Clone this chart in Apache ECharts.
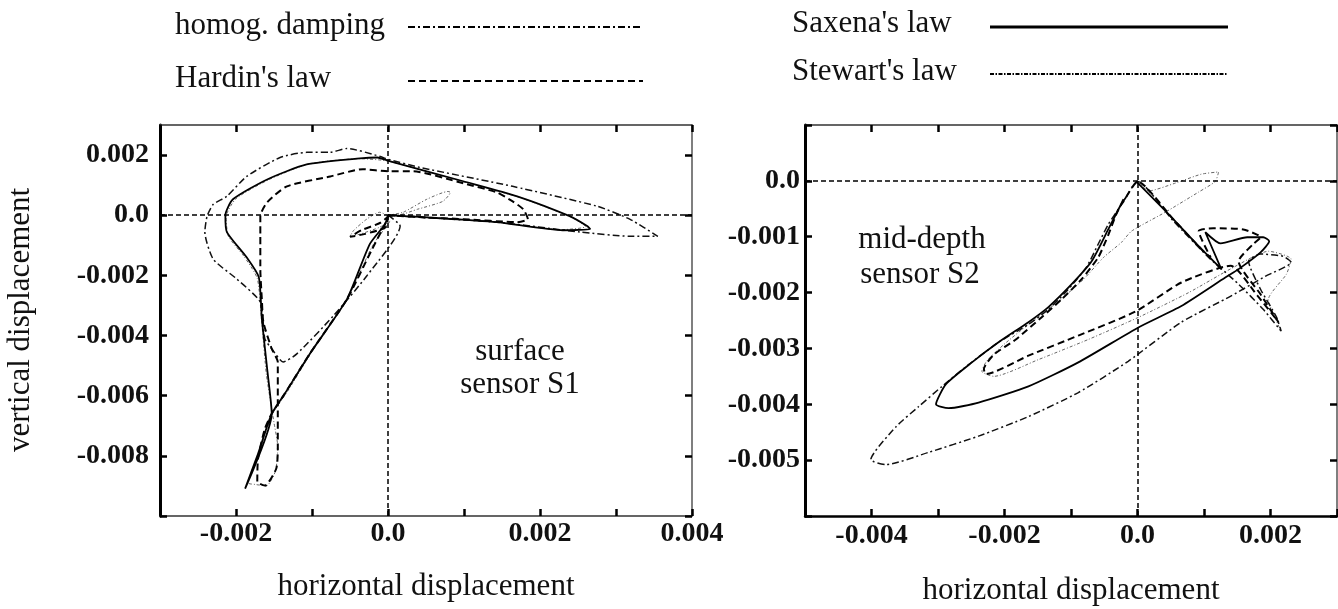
<!DOCTYPE html>
<html><head><meta charset="utf-8">
<script src="https://cdn.jsdelivr.net/npm/echarts/dist/echarts.min.js"></script>
<style>html,body{margin:0;padding:0;background:#fff}#c{width:1338px;height:609px}</style>
</head><body><div id="c"></div>
<script>
// ---------- tick values / labels ----------
const s1XTicks = [-3e-3,-2e-3,-1e-3,0,1e-3,2e-3,3e-3,4e-3];
const s1XLabels = [-2e-3,0,2e-3,4e-3];
const s1YTicks = [-10e-3,-8e-3,-6e-3,-4e-3,-2e-3,0,2e-3];
const s1YLabels = [-8e-3,-6e-3,-4e-3,-2e-3,0,2e-3];
const s2XTicks = [-5e-3,-4e-3,-3e-3,-2e-3,-1e-3,0,1e-3,2e-3,3e-3];
const s2XLabels = [-4e-3,-2e-3,0,2e-3];
const s2YTicks = [-6e-3,-5e-3,-4e-3,-3e-3,-2e-3,-1e-3,0,1e-3];
const s2YLabels = [-5e-3,-4e-3,-3e-3,-2e-3,-1e-3,0];

// ---------- surface sensor S1 ----------
const s1Homog = [[0,0],[0.16e-3,-0.36e-3],[-0.28e-3,-2.02e-3],[-0.72e-3,-3.35e-3],[-1.20e-3,-4.61e-3],[-1.38e-3,-4.88e-3],[-1.53e-3,-4.44e-3],[-1.62e-3,-4.11e-3],[-1.68e-3,-2.89e-3],[-1.99e-3,-2.12e-3],[-2.30e-3,-1.46e-3],[-2.41e-3,-0.56e-3],[-2.38e-3,-0.03e-3],[-2.30e-3,0.36e-3],[-2.12e-3,0.63e-3],[-1.86e-3,1.29e-3],[-1.42e-3,1.92e-3],[-1.07e-3,2.09e-3],[-0.76e-3,2.09e-3],[-0.54e-3,2.22e-3],[-0.11e-3,1.96e-3],[0,1.86e-3],[0.42e-3,1.59e-3],[1.64e-3,0.96e-3],[2.75e-3,0.30e-3],[3.18e-3,-0.13e-3],[3.55e-3,-0.70e-3],[3.18e-3,-0.70e-3],[2.53e-3,-0.56e-3],[1.43e-3,-0.23e-3],[0.42e-3,-0.07e-3],[0,0]];
const s1Hardin = [[0,0],[-0.03e-3,-0.40e-3],[-0.30e-3,-0.62e-3],[-0.50e-3,-0.72e-3],[-0.35e-3,-0.50e-3],[-0.10e-3,-0.25e-3],[0,-0.05e-3],[-0.04e-3,-0.30e-3],[-0.21e-3,-1.13e-3],[-0.54e-3,-2.79e-3],[-1.03e-3,-4.61e-3],[-1.36e-3,-5.94e-3],[-1.53e-3,-6.60e-3],[-1.62e-3,-7.10e-3],[-1.71e-3,-8.09e-3],[-1.72e-3,-8.86e-3],[-1.62e-3,-8.99e-3],[-1.47e-3,-8.42e-3],[-1.45e-3,-7.76e-3],[-1.45e-3,-6.10e-3],[-1.45e-3,-4.88e-3],[-1.53e-3,-4.44e-3],[-1.64e-3,-3.55e-3],[-1.66e-3,-2.79e-3],[-1.68e-3,-1.79e-3],[-1.68e-3,-0.70e-3],[-1.68e-3,-0.03e-3],[-1.59e-3,0.43e-3],[-1.33e-3,0.96e-3],[-0.76e-3,1.29e-3],[-0.33e-3,1.53e-3],[0,1.46e-3],[0.33e-3,1.46e-3],[0.99e-3,1.06e-3],[1.43e-3,0.76e-3],[1.64e-3,0.46e-3],[1.78e-3,0.20e-3],[1.84e-3,-0.13e-3],[1.70e-3,-0.23e-3],[0.99e-3,-0.13e-3],[0.46e-3,-0.07e-3],[0,0]];
const s1Saxena = [[0,0],[-0.04e-3,-0.30e-3],[-0.24e-3,-0.96e-3],[-0.54e-3,-2.79e-3],[-1.03e-3,-4.61e-3],[-1.36e-3,-5.94e-3],[-1.53e-3,-6.60e-3],[-1.71e-3,-7.93e-3],[-1.88e-3,-9.09e-3],[-1.53e-3,-6.60e-3],[-1.59e-3,-5.11e-3],[-1.66e-3,-3.45e-3],[-1.70e-3,-2.06e-3],[-1.86e-3,-1.40e-3],[-2.12e-3,-0.56e-3],[-2.14e-3,0],[-2.04e-3,0.53e-3],[-1.59e-3,1.19e-3],[-1.07e-3,1.69e-3],[-0.37e-3,1.89e-3],[-0.14e-3,1.92e-3],[0.03e-3,1.79e-3],[0.99e-3,1.13e-3],[1.70e-3,0.63e-3],[2.39e-3,-0.03e-3],[2.62e-3,-0.36e-3],[2.66e-3,-0.46e-3],[2.30e-3,-0.50e-3],[1.43e-3,-0.23e-3],[0.51e-3,-0.07e-3],[0.20e-3,-0.03e-3],[0,0]];
const s1Stewart = [[0,0],[0.20e-3,0.10e-3],[0.51e-3,0.53e-3],[0.79e-3,0.79e-3],[0.82e-3,0.76e-3],[0.72e-3,0.46e-3],[0.39e-3,0.20e-3],[0.12e-3,0],[0,0],[-0.11e-3,0.10e-3],[-0.28e-3,-0.13e-3],[-0.45e-3,-0.50e-3],[-0.50e-3,-0.70e-3],[-0.37e-3,-0.63e-3],[-0.11e-3,-0.40e-3],[0.03e-3,-0.20e-3],[-0.20e-3,-1.00e-3],[-0.52e-3,-2.70e-3],[-0.98e-3,-4.45e-3],[-1.32e-3,-5.85e-3],[-1.53e-3,-6.65e-3],[-1.70e-3,-7.90e-3],[-1.84e-3,-8.90e-3],[-1.75e-3,-8.95e-3],[-1.60e-3,-9.00e-3],[-1.48e-3,-8.50e-3],[-1.45e-3,-7.70e-3],[-1.50e-3,-6.90e-3],[-1.60e-3,-5.30e-3],[-1.66e-3,-3.60e-3],[-1.72e-3,-2.10e-3],[-1.90e-3,-1.35e-3],[-2.10e-3,-0.70e-3],[-2.13e-3,-0.05e-3],[-2.00e-3,0.55e-3],[-1.57e-3,1.18e-3],[-1.05e-3,1.70e-3],[-0.38e-3,1.88e-3],[0,1.80e-3],[0.98e-3,1.12e-3],[1.72e-3,0.60e-3],[2.40e-3,-0.05e-3],[2.60e-3,-0.38e-3],[2.28e-3,-0.48e-3],[1.40e-3,-0.22e-3],[0.50e-3,-0.06e-3],[0,0]];

// ---------- mid-depth sensor S2 ----------
const s2Homog = [[-0.17e-3,-0.29e-3],[0,-0.01e-3],[0.54e-3,-0.72e-3],[1.07e-3,-1.37e-3],[1.52e-3,-1.85e-3],[1.89e-3,-2.30e-3],[2.16e-3,-2.69e-3],[2.09e-3,-2.44e-3],[1.85e-3,-1.94e-3],[1.67e-3,-1.44e-3],[1.85e-3,-1.31e-3],[2.19e-3,-1.35e-3],[2.31e-3,-1.46e-3],[1.92e-3,-1.71e-3],[1.41e-3,-2.06e-3],[0.66e-3,-2.53e-3],[-0.14e-3,-3.23e-3],[-0.89e-3,-3.79e-3],[-1.64e-3,-4.22e-3],[-2.39e-3,-4.57e-3],[-3.14e-3,-4.86e-3],[-3.78e-3,-5.08e-3],[-4.01e-3,-4.99e-3],[-3.63e-3,-4.40e-3],[-3.29e-3,-4.04e-3],[-2.94e-3,-3.68e-3],[-2.54e-3,-3.29e-3],[-2.09e-3,-2.89e-3],[-1.64e-3,-2.57e-3],[-1.34e-3,-2.30e-3],[-1.07e-3,-1.98e-3],[-0.77e-3,-1.55e-3],[-0.59e-3,-1.13e-3],[-0.44e-3,-0.78e-3],[-0.29e-3,-0.51e-3],[-0.20e-3,-0.36e-3]];
const s2Hardin = [[-0.17e-3,-0.29e-3],[0,-0.01e-3],[0.54e-3,-0.69e-3],[0.99e-3,-1.26e-3],[1.10e-3,-1.37e-3],[0.92e-3,-0.90e-3],[1.14e-3,-0.85e-3],[1.59e-3,-0.87e-3],[1.85e-3,-1.01e-3],[1.74e-3,-1.13e-3],[1.52e-3,-1.44e-3],[1.85e-3,-2.03e-3],[2.12e-3,-2.53e-3],[1.80e-3,-2.05e-3],[1.40e-3,-1.52e-3],[0.66e-3,-1.82e-3],[-0.03e-3,-2.34e-3],[-0.89e-3,-2.77e-3],[-1.64e-3,-3.13e-3],[-2.28e-3,-3.46e-3],[-2.31e-3,-3.37e-3],[-2.16e-3,-3.11e-3],[-1.83e-3,-2.84e-3],[-1.44e-3,-2.44e-3],[-1.14e-3,-2.12e-3],[-0.84e-3,-1.76e-3],[-0.59e-3,-1.37e-3],[-0.44e-3,-0.97e-3],[-0.32e-3,-0.60e-3],[-0.21e-3,-0.33e-3]];
const s2Saxena = [[-0.02e-3,-0.01e-3],[0.47e-3,-0.60e-3],[0.92e-3,-1.17e-3],[1.26e-3,-1.58e-3],[1.02e-3,-0.92e-3],[1.25e-3,-1.12e-3],[1.65e-3,-1.01e-3],[1.89e-3,-1.01e-3],[1.98e-3,-1.08e-3],[1.85e-3,-1.28e-3],[1.52e-3,-1.58e-3],[1.32e-3,-1.73e-3],[0.66e-3,-2.24e-3],[0.02e-3,-2.62e-3],[-0.89e-3,-3.25e-3],[-1.64e-3,-3.68e-3],[-2.39e-3,-3.97e-3],[-2.84e-3,-4.07e-3],[-3.03e-3,-4.00e-3],[-2.88e-3,-3.64e-3],[-2.49e-3,-3.25e-3],[-2.09e-3,-2.89e-3],[-1.64e-3,-2.53e-3],[-1.34e-3,-2.26e-3],[-0.99e-3,-1.85e-3],[-0.69e-3,-1.44e-3],[-0.44e-3,-0.87e-3],[-0.26e-3,-0.45e-3],[-0.17e-3,-0.29e-3]];
const s2Stewart = [[0,-0.01e-3],[0.17e-3,-0.18e-3],[0.57e-3,-0.04e-3],[0.96e-3,0.12e-3],[1.22e-3,0.16e-3],[1.17e-3,-0.01e-3],[0.92e-3,-0.20e-3],[0.42e-3,-0.56e-3],[-0.09e-3,-0.90e-3],[-0.24e-3,-1.10e-3],[-0.51e-3,-1.37e-3],[-0.81e-3,-1.76e-3],[-1.19e-3,-2.16e-3],[-1.64e-3,-2.57e-3],[-2.01e-3,-2.93e-3],[-2.27e-3,-3.23e-3],[-2.34e-3,-3.41e-3],[-2.16e-3,-3.50e-3],[-1.49e-3,-3.20e-3],[-0.74e-3,-2.84e-3],[0.02e-3,-2.44e-3],[0.77e-3,-2.00e-3],[1.44e-3,-1.55e-3],[1.97e-3,-1.26e-3],[2.31e-3,-1.40e-3],[2.24e-3,-1.67e-3],[1.97e-3,-2.12e-3],[2.16e-3,-2.69e-3]];

// ---------- build ----------
const FONT = '"Liberation Serif","DejaVu Serif",serif';
const chart = echarts.init(document.getElementById('c'), null, {renderer:'canvas'});
const fmt = v => Math.abs(v) < 1e-9 ? '0.0' : v.toFixed(3);
const inList = (list, v) => list.some(l => Math.abs(l - v) < 1e-9);

function axis(grid, pos, min, max, interval, ticks, labels, line, labelMargin) {
  return {
    type:'value', gridIndex:grid, position:pos, min, max, interval,
    axisLine:{show:true, onZero:false, lineStyle:{color:line.c, width:line.w}},
    axisTick:{show:true, inside:true, length:7, customValues:ticks, lineStyle:{color:'#000', width:2.5}},
    axisLabel:{show:!!labels, customValues:labels || undefined, margin:labelMargin || 8,
      fontFamily:FONT, fontSize:28, fontWeight:'bold', color:'#111',
      formatter: v => (labels && inList(labels, v)) ? fmt(v) : ''},
    splitLine:{show:false}
  };
}

const zeroLines = {silent:true, symbol:['none','none'], label:{show:false},
  lineStyle:{color:'#000', width:1.5, type:[5,3]}, emphasis:{disabled:true},
  data:[{xAxis:0},{yAxis:0}]};

const styles = {
  homog:{color:'#111', width:1.5, type:[7,3,2,3]},
  hardin:{color:'#000', width:2, type:[7,4]},
  saxena:{color:'#000', width:1.8, type:'solid'},
  stewart:{color:'#666', width:1, type:[3,2,1,2]}
};
function ser(name, data, ax, st, withZero) {
  const s = {type:'line', name, data, xAxisIndex:ax, yAxisIndex:ax, symbol:'none',
    smooth:0.2, lineStyle:st, itemStyle:{color:st.color}, animation:false, silent:true, clip:true};
  if (withZero) s.markLine = zeroLines;
  return s;
}

function txt(x, y, text, size, align, rot, weight) {
  return {type:'text', x, y, rotation:rot || 0, silent:true,
    style:{text, font:(weight||'normal') + ' ' + size + 'px ' + FONT, fill:'#111',
      textAlign:align, textVerticalAlign:'middle', align:align, verticalAlign:'middle'}};
}
function lgLine(x1, x2, y, lineWidth, dash) {
  return {type:'line', silent:true, shape:{x1, y1:y, x2, y2:y},
    style:{stroke:'#000', lineWidth, lineDash:dash}};
}

chart.setOption({
  animation:false,
  backgroundColor:'#fff',
  grid:[
    {left:160, top:125, width:532, height:391},
    {left:805, top:125, width:532, height:391}
  ],
  xAxis:[
    axis(0,'bottom',-3e-3,4e-3,1e-3,s1XTicks,s1XLabels,{c:'#333',w:1.5},4),
    axis(0,'top',-3e-3,4e-3,1e-3,s1XTicks,null,{c:'#333',w:1.5}),
    axis(1,'bottom',-5e-3,3e-3,1e-3,s2XTicks,s2XLabels,{c:'#000',w:2.5},6),
    axis(1,'top',-5e-3,3e-3,1e-3,s2XTicks,null,{c:'#333',w:1.5})
  ],
  yAxis:[
    axis(0,'left',-10e-3,3e-3,2e-3,s1YTicks,s1YLabels,{c:'#000',w:3},11),
    axis(0,'right',-10e-3,3e-3,2e-3,s1YTicks,null,{c:'#555',w:1.5}),
    axis(1,'left',-6e-3,1e-3,1e-3,s2YTicks,s2YLabels,{c:'#000',w:3},5),
    axis(1,'right',-6e-3,1e-3,1e-3,s2YTicks,null,{c:'#555',w:1.5})
  ],
  series:[
    ser('Stewart\'s law', s1Stewart, 0, styles.stewart, true),
    ser('homog. damping', s1Homog, 0, styles.homog),
    ser('Hardin\'s law', s1Hardin, 0, styles.hardin),
    ser('Saxena\'s law', s1Saxena, 0, styles.saxena),
    ser('Stewart\'s law', s2Stewart, 2, styles.stewart, true),
    ser('homog. damping', s2Homog, 2, styles.homog),
    ser('Hardin\'s law', s2Hardin, 2, styles.hardin),
    ser('Saxena\'s law', s2Saxena, 2, styles.saxena)
  ],
  graphic:[
    txt(175, 26, 'homog. damping', 31, 'left'),
    lgLine(408, 643, 27, 2, [7,3,2,3]),
    txt(175, 79, 'Hardin\'s law', 31, 'left'),
    lgLine(408, 643, 81, 2, [7,4]),
    txt(792, 24, 'Saxena\'s law', 31, 'left'),
    lgLine(990, 1228, 27, 3, null),
    txt(792, 72, 'Stewart\'s law', 31, 'left'),
    lgLine(990, 1228, 74, 2, [4,1.5,1.5,1.5]),
    txt(21, 320, 'vertical displacement', 31, 'center', Math.PI/2),
    txt(426, 587, 'horizontal displacement', 31, 'center'),
    txt(1071, 591, 'horizontal displacement', 31, 'center'),
    txt(520, 352, 'surface', 31, 'center'),
    txt(520, 385, 'sensor S1', 31, 'center'),
    txt(922, 240, 'mid-depth', 31, 'center'),
    txt(920, 275, 'sensor S2', 31, 'center')
  ]
});
</script></body></html>
